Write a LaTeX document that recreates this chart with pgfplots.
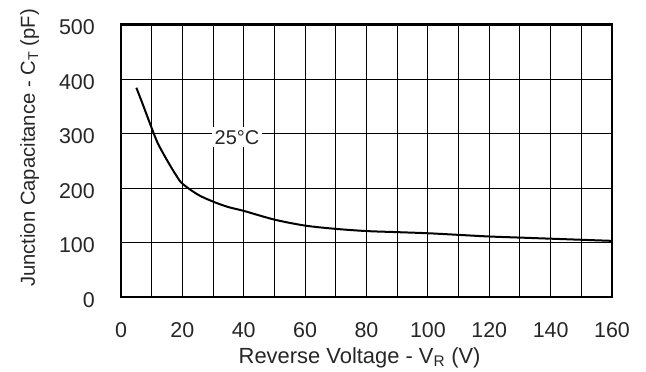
\documentclass[border=0pt]{standalone}
\usepackage{pgfplots}
\pgfplotsset{compat=1.18}
\usepackage{fontspec}
\setmainfont{Liberation Sans}
\begin{document}
\fontsize{19.5}{23}\selectfont
\begin{tikzpicture}
\begin{axis}[
  name=main,
  scale only axis,
  width=491bp, height=272.5bp,
  xmin=0, xmax=160, ymin=0, ymax=500,
  xtick={0,20,...,160},
  minor xtick={10,30,...,150},
  ytick={0,100,...,500},
  grid=both,
  major grid style={black, line width=0.9bp},
  minor grid style={black, line width=0.9bp},
  tick style={draw=none},
  axis line style={line width=2.4bp},
  /pgf/number format/assume math mode=true,
  tick label style={font=\fontsize{21.5}{24}\selectfont, text=black!85},
  xticklabel style={anchor=base, inner sep=0pt, yshift=-40bp},
  yticklabel style={anchor=east, inner sep=0pt, xshift=-26bp, yshift=-3bp},
  xlabel={Reverse Voltage - V\textsubscript{R} (V)},
  ylabel={Junction Capacitance - C\textsubscript{T} (pF)},
  xlabel style={font=\fontsize{22}{24}\selectfont, text=black!85, at={(axis description cs:0.486,0)}, anchor=base, inner sep=0pt, yshift=-66bp},
  ylabel style={font=\fontsize{20.3}{23}\selectfont, text=black!85, at={(axis description cs:-0.1752,0.547)}, anchor=base, inner sep=0pt},
]
\addplot[black, line width=2bp, smooth, tension=0.5] coordinates {
(5,384) (7,355) (10,310) (12,282) (15,251) (18,223) (20,208) (25,188) (30,175) (35,165)
(40,158) (50,142) (60,131) (70,125) (80,121) (90,119) (100,117) (110,114) (120,111)
(130,109) (140,107) (150,105) (160,103)
};
\node[fill=white, inner sep=3bp, text=black!85, font=\fontsize{20}{23}\selectfont] at (axis cs:37.8,293) {25°C};
\end{axis}
\pgfresetboundingbox
\path (main.south west) ++(-121bp,-75bp) rectangle ([xshift=34bp,yshift=24.5bp]main.north east);
\end{tikzpicture}
\end{document}
